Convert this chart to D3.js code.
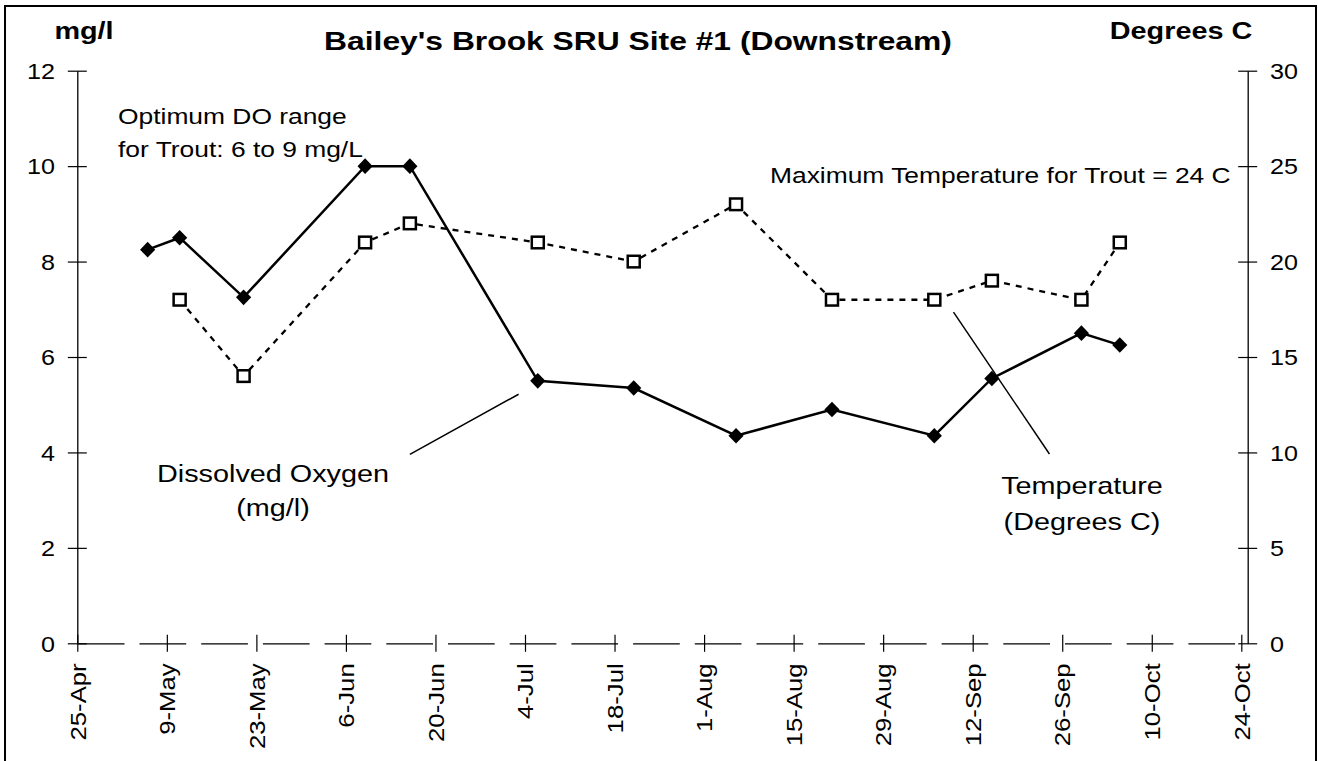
<!DOCTYPE html>
<html>
<head>
<meta charset="utf-8">
<script src="https://cdn.jsdelivr.net/npm/d3@7"></script>
<style>
  html, body { margin: 0; padding: 0; background: #fff; }
  svg { display: block; font-family: "Liberation Sans", Arial, sans-serif; }
</style>
</head>
<body>
<svg id="chart" width="1318" height="761"></svg>
<script>
// ── Data ───────────────────────────────────────────────────────────────────

const sampleDates = [
  '2003-05-06', '2003-05-11', '2003-05-21', '2003-06-09', '2003-06-16',
  '2003-07-06', '2003-07-21', '2003-08-06', '2003-08-21', '2003-09-06',
  '2003-09-15', '2003-09-29', '2003-10-05'
];
const doValues   = [8.25, 8.5, 7.25, 10, 10, 5.5, 5.35, 4.35, 4.9, 4.35, 5.55, 6.5, 6.25];
const tempValues = [null, 18, 14, 21, 22, 21, 20, 23, 18, 18, 19, 18, 21];

const xTickDates = [
  '2003-04-25', '2003-05-09', '2003-05-23', '2003-06-06', '2003-06-20',
  '2003-07-04', '2003-07-18', '2003-08-01', '2003-08-15', '2003-08-29',
  '2003-09-12', '2003-09-26', '2003-10-10', '2003-10-24'
];
const doTicks   = [0, 2, 4, 6, 8, 10, 12];
const tempTicks = [0, 5, 10, 15, 20, 25, 30];

// ── Layout ─────────────────────────────────────────────────────────────────

const SX = 1.2;                // reference text is rendered horizontally stretched
const TICK_SX = 1.17;
const plot = { left: 77.3, right: 1247.7, top: 70.7, bottom: 643.3 };

const parse = d3.utcParse('%Y-%m-%d');
const svg = d3.select('#chart');

const x = d3.scaleUtc()
  .domain([parse('2003-04-25'), parse('2003-10-25')])
  .range([plot.left, plot.right]);
const yDO = d3.scaleLinear().domain([0, 12]).range([plot.bottom, plot.top]);
const yT  = d3.scaleLinear().domain([0, 30]).range([plot.bottom, plot.top]);

const rows = sampleDates.map((d, i) => ({ date: parse(d), o: doValues[i], t: tempValues[i] }));

// outer frame
svg.append('rect')
  .attr('x', 5).attr('y', 6).attr('width', 1311).attr('height', 780)
  .attr('fill', 'none').attr('stroke', '#000').attr('stroke-width', 2);

// stretched text helper
function label(str, px, py, opts = {}) {
  return svg.append('text')
    .attr('transform', `translate(${px},${py}) scale(${opts.sx || SX},1)`)
    .attr('text-anchor', opts.anchor || 'start')
    .attr('font-size', opts.size || 22)
    .attr('font-weight', opts.bold ? 'bold' : 'normal')
    .attr('fill', '#000')
    .text(str);
}

// ── Axes ───────────────────────────────────────────────────────────────────

const xAxis = svg.append('g')
  .attr('transform', `translate(0,${plot.bottom})`)
  .call(d3.axisBottom(x)
    .tickValues(xTickDates.map(parse))
    .tickFormat(d3.utcFormat('%-d-%b'))
    .tickSizeOuter(0));
xAxis.select('.domain')
  .attr('stroke', '#000').attr('stroke-width', 1.3)
  .attr('stroke-dasharray', '46.7,15');
xAxis.selectAll('.tick line')
  .attr('y1', -8.5).attr('y2', 8.5).attr('stroke', '#000').attr('stroke-width', 1.2);
xAxis.selectAll('.tick text')
  .attr('x', 0).attr('y', 0).attr('dy', '0.35em')
  .attr('transform', `translate(0,20) rotate(-90) scale(${TICK_SX},1)`)
  .attr('text-anchor', 'end')
  .attr('font-size', 22).attr('font-family', null).attr('fill', '#000');

const leftAxis = svg.append('g')
  .attr('transform', `translate(${plot.left},0)`)
  .call(d3.axisLeft(yDO).tickValues(doTicks).tickSizeOuter(0));
const rightAxis = svg.append('g')
  .attr('transform', `translate(${plot.right},0)`)
  .call(d3.axisRight(yT).tickValues(tempTicks).tickSizeOuter(0));

for (const [ax, off, anchor] of [[leftAxis, -22.3, 'end'], [rightAxis, 22.3, 'start']]) {
  ax.select('.domain').attr('stroke', '#000').attr('stroke-width', 1.3);
  ax.selectAll('.tick line')
    .attr('x1', -9.5).attr('x2', 9.5).attr('stroke', '#000').attr('stroke-width', 1.2);
  ax.selectAll('.tick text')
    .attr('x', 0).attr('dy', '0.36em')
    .attr('transform', `translate(${off},0) scale(${TICK_SX},1)`)
    .attr('text-anchor', anchor)
    .attr('font-size', 21.5).attr('font-family', null).attr('fill', '#000');
}

// ── Titles ─────────────────────────────────────────────────────────────────

label("Bailey's Brook SRU Site #1 (Downstream)", 638, 49.5, { anchor: 'middle', size: 26.5, bold: true });
label('mg/l', 84, 39, { anchor: 'middle', size: 24, bold: true });
label('Degrees C', 1181, 39, { anchor: 'middle', size: 24, bold: true });

// ── Series ─────────────────────────────────────────────────────────────────

const tempLine = d3.line()
  .defined(d => d.t != null)
  .x(d => x(d.date)).y(d => yT(d.t));
svg.append('path')
  .datum(rows)
  .attr('d', tempLine)
  .attr('fill', 'none').attr('stroke', '#000').attr('stroke-width', 2.3)
  .attr('stroke-dasharray', '6,6');

const doLine = d3.line().x(d => x(d.date)).y(d => yDO(d.o));
svg.append('path')
  .datum(rows)
  .attr('d', doLine)
  .attr('fill', 'none').attr('stroke', '#000').attr('stroke-width', 2.5);

svg.append('g').selectAll('rect')
  .data(rows.filter(d => d.t != null))
  .join('rect')
  .attr('x', d => x(d.date) - 6)
  .attr('y', d => yT(d.t) - 5.8)
  .attr('width', 12).attr('height', 11.6)
  .attr('fill', '#fff').attr('stroke', '#000').attr('stroke-width', 2.5);

svg.append('g').selectAll('path')
  .data(rows)
  .join('path')
  .attr('transform', d => `translate(${x(d.date)},${yDO(d.o)})`)
  .attr('d', 'M0,-7.8L7.6,0L0,7.8L-7.6,0Z')
  .attr('fill', '#000');

// ── Annotations ────────────────────────────────────────────────────────────

label('Optimum DO range', 118, 124);
label('for Trout: 6 to 9 mg/L', 118, 157);
label('Maximum Temperature for Trout = 24 C', 770, 183);

label('Dissolved Oxygen', 273, 482, { anchor: 'middle', size: 24 });
label('(mg/l)', 273, 516, { anchor: 'middle', size: 24 });
label('Temperature', 1082, 494, { anchor: 'middle', size: 24 });
label('(Degrees C)', 1082, 530, { anchor: 'middle', size: 24 });

// leader lines, placed in data units
svg.append('line')
  .attr('x1', x(parse('2003-06-16'))).attr('y1', yDO(3.96))
  .attr('x2', x(parse('2003-07-03'))).attr('y2', yDO(5.22))
  .attr('stroke', '#000').attr('stroke-width', 1.5);
svg.append('line')
  .attr('x1', x(parse('2003-09-09'))).attr('y1', yT(17.35))
  .attr('x2', x(parse('2003-09-24'))).attr('y2', yT(9.92))
  .attr('stroke', '#000').attr('stroke-width', 1.5);
</script>
</body>
</html>
